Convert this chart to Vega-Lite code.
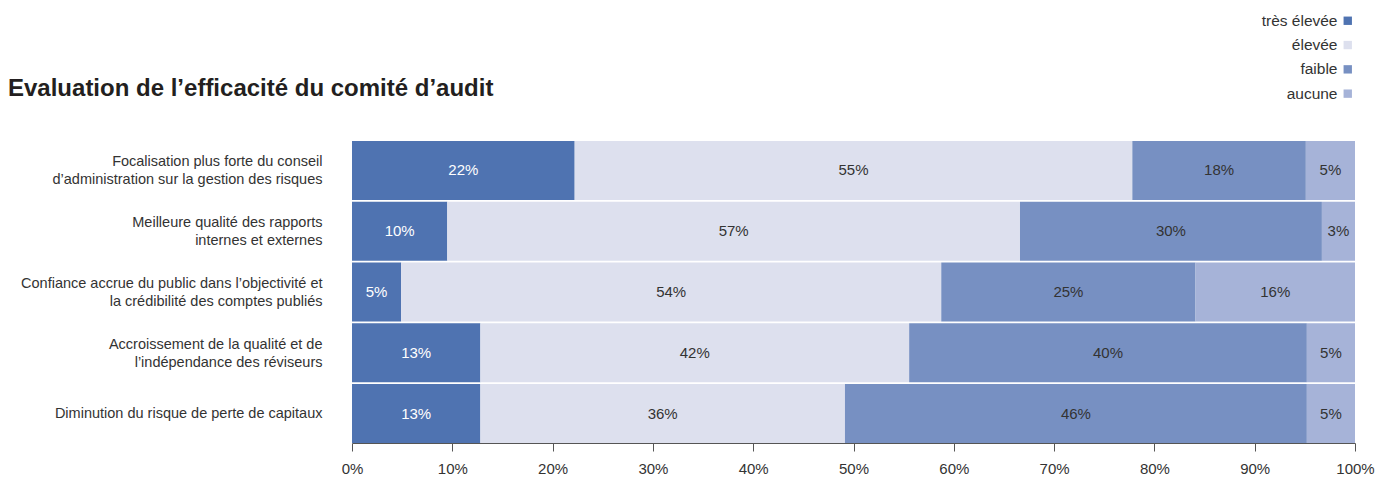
{
  "$schema": "https://vega.github.io/schema/vega-lite/v6.json",
  "width": 1003,
  "height": 302,
  "autosize": {"type": "none"},
  "padding": {"left": 352, "top": 141, "right": 22, "bottom": 34},
  "background": "white",
  "title": {
    "text": "Evaluation de l’efficacité du comité d’audit",
    "anchor": "start",
    "frame": "group",
    "dx": -344,
    "offset": -107,
    "baseline": "alphabetic",
    "font": "Liberation Sans",
    "fontSize": 24,
    "fontWeight": "bold",
    "color": "#231f20"
  },
  "config": {
    "view": {"stroke": null},
    "font": "Liberation Sans"
  },
  "data": {
    "values": [
      {"q": "Focalisation plus forte du conseil|d’administration sur la gestion des risques", "cat": "très élevée", "v": 22.2, "label": "22%"},
      {"q": "Focalisation plus forte du conseil|d’administration sur la gestion des risques", "cat": "élevée", "v": 55.6, "label": "55%"},
      {"q": "Focalisation plus forte du conseil|d’administration sur la gestion des risques", "cat": "faible", "v": 17.3, "label": "18%"},
      {"q": "Focalisation plus forte du conseil|d’administration sur la gestion des risques", "cat": "aucune", "v": 4.9, "label": "5%"},
      {"q": "Meilleure qualité des rapports|internes et externes", "cat": "très élevée", "v": 9.5, "label": "10%"},
      {"q": "Meilleure qualité des rapports|internes et externes", "cat": "élevée", "v": 57.1, "label": "57%"},
      {"q": "Meilleure qualité des rapports|internes et externes", "cat": "faible", "v": 30.1, "label": "30%"},
      {"q": "Meilleure qualité des rapports|internes et externes", "cat": "aucune", "v": 3.3, "label": "3%"},
      {"q": "Confiance accrue du public dans l’objectivité et|la crédibilité des comptes publiés", "cat": "très élevée", "v": 4.9, "label": "5%"},
      {"q": "Confiance accrue du public dans l’objectivité et|la crédibilité des comptes publiés", "cat": "élevée", "v": 53.85, "label": "54%"},
      {"q": "Confiance accrue du public dans l’objectivité et|la crédibilité des comptes publiés", "cat": "faible", "v": 25.35, "label": "25%"},
      {"q": "Confiance accrue du public dans l’objectivité et|la crédibilité des comptes publiés", "cat": "aucune", "v": 15.9, "label": "16%"},
      {"q": "Accroissement de la qualité et de|l’indépendance des réviseurs", "cat": "très élevée", "v": 12.8, "label": "13%"},
      {"q": "Accroissement de la qualité et de|l’indépendance des réviseurs", "cat": "élevée", "v": 42.75, "label": "42%"},
      {"q": "Accroissement de la qualité et de|l’indépendance des réviseurs", "cat": "faible", "v": 39.65, "label": "40%"},
      {"q": "Accroissement de la qualité et de|l’indépendance des réviseurs", "cat": "aucune", "v": 4.8, "label": "5%"},
      {"q": "Diminution du risque de perte de capitaux", "cat": "très élevée", "v": 12.8, "label": "13%"},
      {"q": "Diminution du risque de perte de capitaux", "cat": "élevée", "v": 36.35, "label": "36%"},
      {"q": "Diminution du risque de perte de capitaux", "cat": "faible", "v": 46.05, "label": "46%"},
      {"q": "Diminution du risque de perte de capitaux", "cat": "aucune", "v": 4.8, "label": "5%"}
    ]
  },
  "transform": [
    {"calculate": "indexof(['très élevée','élevée','faible','aucune'], datum.cat)", "as": "ord"},
    {"stack": "v", "groupby": ["q"], "sort": [{"field": "ord", "order": "ascending"}], "as": ["x0", "x1"]},
    {"calculate": "(datum.x0 + datum.x1) / 2", "as": "xm"}
  ],
  "encoding": {
    "y": {
      "field": "q",
      "type": "nominal",
      "sort": [
        "Focalisation plus forte du conseil|d’administration sur la gestion des risques",
        "Meilleure qualité des rapports|internes et externes",
        "Confiance accrue du public dans l’objectivité et|la crédibilité des comptes publiés",
        "Accroissement de la qualité et de|l’indépendance des réviseurs",
        "Diminution du risque de perte de capitaux"
      ],
      "scale": {"paddingInner": 0.03, "paddingOuter": 0},
      "axis": {
        "title": null,
        "domain": false,
        "ticks": false,
        "labelPadding": 30,
        "labelFontSize": 14.5,
        "labelLimit": 400,
        "labelColor": "#333333",
        "labelLineHeight": 18,
        "labelOffset": {"condition": {"test": "indexof(datum.label, '|') >= 0", "value": -8}, "value": 0},
        "labelExpr": "split(datum.label, '|')"
      }
    }
  },
  "layer": [
    {
      "mark": {"type": "bar"},
      "encoding": {
        "x": {
          "field": "x0",
          "type": "quantitative",
          "scale": {"domain": [0, 100], "nice": false},
          "axis": {
            "title": null,
            "grid": false,
            "values": [0, 10, 20, 30, 40, 50, 60, 70, 80, 90, 100],
            "labelExpr": "datum.value + '%'",
            "domainColor": "#555555",
            "tickColor": "#555555",
            "tickSize": 8,
            "labelPadding": 10,
            "labelFontSize": 15,
            "labelColor": "#333333",
            "labelFlush": false
          }
        },
        "x2": {"field": "x1"},
        "color": {
          "field": "cat",
          "type": "nominal",
          "scale": {
            "domain": ["très élevée", "élevée", "faible", "aucune"],
            "range": ["#4f73b1", "#dde0ee", "#7790c2", "#a6b3d8"]
          },
          "legend": {
            "title": null,
            "orient": "none",
            "legendX": 988,
            "legendY": -128,
            "symbolType": "square",
            "symbolSize": 70,
            "symbolStrokeWidth": 0,
            "labelAlign": "right",
            "labelOffset": -18,
            "labelFontSize": 15.5,
            "labelColor": "#333333",
            "rowPadding": 7.3
          }
        }
      }
    },
    {
      "mark": {"type": "text", "fontSize": 15},
      "encoding": {
        "x": {"field": "xm", "type": "quantitative"},
        "text": {"field": "label"},
        "color": {
          "condition": {"test": "datum.cat === 'très élevée'", "value": "#ffffff"},
          "value": "#333333"
        }
      }
    }
  ]
}
